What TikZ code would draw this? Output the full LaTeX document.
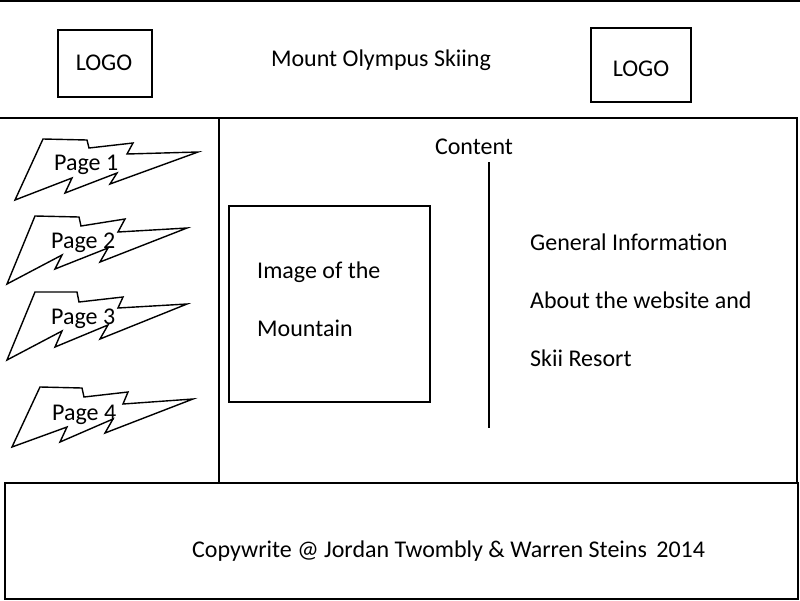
\documentclass[tikz,border=0pt]{standalone}
\usepackage{fontspec}
\setmainfont{Carlito}
\begin{document}
\begin{tikzpicture}[x=1pt,y=-1pt,
  frame/.style={draw=black,line width=2pt},
  bolt/.style={draw=black,line width=1.4pt,line join=miter},
  label/.style={inner sep=0pt,font=\fontsize{24}{29}\selectfont},
  boxed/.style={draw=black,line width=2pt,inner sep=0pt}]
\useasboundingbox (0,0) rectangle (800,600);

% page frame: header rule, main area, sidebar divider, footer
\draw[frame] (0,1) -- (800,1);
\draw[frame] (0,118) -- (797,118) -- (797,482);
\draw[frame] (219,118) -- (219,482);
\node[boxed,minimum width=793pt,minimum height=116pt,anchor=north west] (footer) at (4,482) {};

% header
\node[boxed,minimum width=94pt,minimum height=67pt,anchor=north west] (logoL) at (57,29) {};
\node[boxed,minimum width=100pt,minimum height=74pt,anchor=north west] (logoR) at (590,27) {};
\node[label,anchor=base] (logoLtext) at (104,70) {LOGO};
\node[label,anchor=base] (logoRtext) at (641,76) {LOGO};
\node[label,anchor=base] (title) at (381,66) {Mount Olympus Skiing};

% navigation bolts
\draw[bolt] (43,139) -- (87,140) -- (89,148) -- (133,143) -- (127,154) -- (198,152)
  -- (110,184) -- (117,173) -- (65,193) -- (72,178) -- (15,200) -- cycle;
\draw[bolt] (35,216) -- (79,217) -- (81,226) -- (125,219) -- (118,232) -- (187,228)
  -- (100,262) -- (108,248) -- (55,269) -- (62,255) -- (7,284) -- cycle;
\draw[bolt] (35,292) -- (77,292) -- (79,302) -- (123,297) -- (118,308) -- (187,304)
  -- (100,339) -- (108,325) -- (55,347) -- (62,331) -- (7,360) -- cycle;
\draw[bolt] (40,387) -- (82,388) -- (84,397) -- (128,392) -- (123,404) -- (193,399)
  -- (105,433) -- (113,419) -- (60,442) -- (67,427) -- (12,447) -- cycle;
\node[label,anchor=base west] (page1) at (54,170) {Page 1};
\node[label,anchor=base west] (page2) at (51,248) {Page 2};
\node[label,anchor=base west] (page3) at (51,324) {Page 3};
\node[label,anchor=base west] (page4) at (52,420) {Page 4};

% content area
\node[label,anchor=base] (content) at (474,154) {Content};
\coordinate (ruleTop) at (489,162);
\coordinate (ruleBot) at (489,428);
\draw[line width=2pt] (ruleTop) -- (ruleBot);
\node[boxed,minimum width=201pt,minimum height=196pt,anchor=north west] (image) at (228,205) {};
\node[label,anchor=base west] (img1) at (257,278) {Image of the};
\node[label,anchor=base west] (img2) at (257,336) {Mountain};
\node[label,anchor=base west] (info1) at (530,250) {General Information};
\node[label,anchor=base west] (info2) at (530,308) {About the website and};
\node[label,anchor=base west] (info3) at (530,366) {Skii Resort};

% footer text
\node[label,anchor=base west] (copy) at (192,557) {Copywrite @ Jordan Twombly \& Warren Steins\hspace{4pt} 2014};
\end{tikzpicture}
\end{document}
